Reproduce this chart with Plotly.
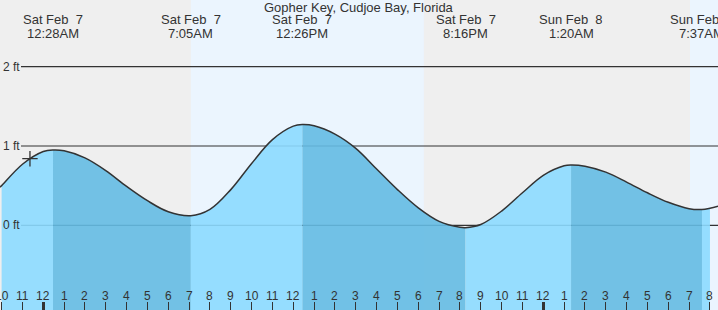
import plotly.graph_objects as go

# ---------------- data ----------------
station = "Gopher Key, Cudjoe Bay, Florida"

# hours since Sat Feb 7 00:00, tide height in ft
curve_hours = [-2.08, -2, -1, 0, 0.467, 1, 2, 3, 4, 5, 6, 7.083,
               8, 9, 10, 11, 12, 12.433, 13, 14, 15, 16, 17, 18, 19, 20, 20.267,
               21, 22, 23, 24, 25, 25.333, 26, 27, 28, 29, 30, 31, 31.617, 32, 32.39]
curve_ft = [0.48, 0.50, 0.77, 0.93, 0.95, 0.94, 0.85, 0.69, 0.49, 0.31, 0.17, 0.12,
            0.20, 0.45, 0.78, 1.08, 1.25, 1.27, 1.255, 1.15, 0.97, 0.71, 0.45, 0.22, 0.05, -0.025, -0.03,
            0.01, 0.18, 0.41, 0.63, 0.75, 0.76, 0.745, 0.67, 0.545, 0.41, 0.29, 0.21, 0.20, 0.215, 0.24]

extreme_hours = [0.467, 7.083, 12.433, 20.267, 25.333, 31.617]
extreme_dates = ["Sat Feb\u00a0 7", "Sat Feb\u00a0 7", "Sat Feb\u00a0 7", "Sat Feb\u00a0 7", "Sun Feb\u00a0 8", "Sun Feb\u00a0 8"]
extreme_times = ["12:28AM", "7:05AM", "12:26PM", "8:16PM", "1:20AM", "7:37AM"]

sun_hours = [7.083, 18.27, 31.04]   # sunrise, sunset, sunrise

now_hour = [-0.64]
now_ft = [0.84]

hour_ticks = list(range(-2, 33))
hour_labels = [str(((h % 12) or 12)) for h in hour_ticks]
midnight_ticks = [0, 24]

y_ticks = [0, 1, 2]
y_labels = ["0 ft", "1 ft", "2 ft"]

x_range = [-2.078, 32.386]
y_range = [-1.068, 2.841]

# ---------------- styles ----------------
NIGHT = "#efefef"
DAY = "#ebf5fe"
LIGHT = "rgba(140,218,255,0.9)"
DARK = "rgba(100,187,227,0.9)"
TXT = "#333333"
FONT = "Liberation Sans, Arial, sans-serif"

fig = go.Figure()

# segment fills
bounds = [x_range[0]] + extreme_hours + [x_range[1]]
for i in range(len(bounds) - 1):
    a, b = bounds[i], bounds[i + 1]
    xs = [h for h in curve_hours if a - 1e-9 <= h <= b + 1e-9]
    ys = [v for h, v in zip(curve_hours, curve_ft) if a - 1e-9 <= h <= b + 1e-9]
    color = LIGHT if i % 2 == 0 else DARK
    fig.add_trace(go.Scatter(x=[xs[0], xs[-1]], y=[y_range[0] - 0.1] * 2, mode="lines",
                             line=dict(width=0), hoverinfo="skip", showlegend=False))
    fig.add_trace(go.Scatter(x=xs, y=ys, mode="lines", line=dict(width=0, shape="spline"),
                             fill="tonexty", fillcolor=color, hoverinfo="skip", showlegend=False))

# outline
fig.add_trace(go.Scatter(x=curve_hours, y=curve_ft, mode="lines",
                         line=dict(color=TXT, width=1.5, shape="spline"), showlegend=False))

# current-time marker
fig.add_trace(go.Scatter(x=now_hour, y=now_ft, mode="markers",
                         marker=dict(symbol="cross-thin", size=11, line=dict(width=1.3, color=TXT)),
                         showlegend=False))

# midnight thick ticks on overlay axis
fig.add_trace(go.Scatter(x=midnight_ticks, y=[None, None], xaxis="x2", showlegend=False))

shapes = []
# day / night bands
band_edges = [x_range[0] - 1] + sun_hours + [x_range[1] + 1]
for i in range(len(band_edges) - 1):
    shapes.append(dict(type="rect", xref="x", yref="paper", x0=band_edges[i], x1=band_edges[i + 1],
                       y0=0, y1=1, fillcolor=NIGHT if i % 2 == 0 else DAY, line=dict(width=0),
                       layer="below"))
# horizontal ft lines
for yv in y_ticks:
    shapes.append(dict(type="line", xref="paper", yref="y", x0=21 / 718, x1=1, y0=yv, y1=yv,
                       line=dict(color=TXT, width=1.2), layer="below"))

annotations = []
for yv, lab in zip(y_ticks, y_labels):
    annotations.append(dict(x=1 / 718, xref="paper", y=yv, yref="y", text=lab, showarrow=False,
                            xanchor="left", yanchor="middle", font=dict(size=12, color=TXT, family=FONT)))
for h, d, t in zip(extreme_hours, extreme_dates, extreme_times):
    annotations.append(dict(x=h, xref="x", y=1 - 19.5 / 310, yref="paper", text=d, showarrow=False,
                            height=12, xanchor="center", yanchor="middle",
                            font=dict(size=13, color=TXT, family=FONT)))
    annotations.append(dict(x=h, xref="x", y=1 - 32.5 / 310, yref="paper", text=t, showarrow=False,
                            height=12, xanchor="center", yanchor="middle",
                            font=dict(size=13, color=TXT, family=FONT)))
annotations.append(dict(x=0.5, xref="paper", y=1 - 8 / 310, yref="paper", text=station, showarrow=False,
                        xanchor="center", yanchor="middle",
                        font=dict(size=13, color=TXT, family=FONT)))
# hour labels
for h, lab in zip(hour_ticks, hour_labels):
    annotations.append(dict(x=h, xref="x", y=1 - 295.5 / 310, yref="paper", text=lab, showarrow=False,
                            xanchor="center", yanchor="middle", font=dict(size=12, color=TXT, family=FONT)))

fig.update_layout(
    width=718, height=310, margin=dict(l=0, r=0, t=0, b=0),
    paper_bgcolor=NIGHT, plot_bgcolor=NIGHT,
    xaxis=dict(range=x_range, tickvals=hour_ticks, ticks="inside",
               ticklen=8, tickwidth=1, tickcolor=TXT, showticklabels=False,
               showgrid=False, zeroline=False, showline=False, fixedrange=True),
    xaxis2=dict(range=x_range, overlaying="x", side="bottom", tickvals=midnight_ticks,
                ticks="inside", ticklen=8, tickwidth=3, tickcolor=TXT, showticklabels=False,
                showgrid=False, zeroline=False, showline=False),
    yaxis=dict(range=y_range, showgrid=False, zeroline=False, showline=False,
               showticklabels=False, ticks=""),
    shapes=shapes, annotations=annotations, showlegend=False,
)

fig.write_html("out.html", config={"displayModeBar": False})
